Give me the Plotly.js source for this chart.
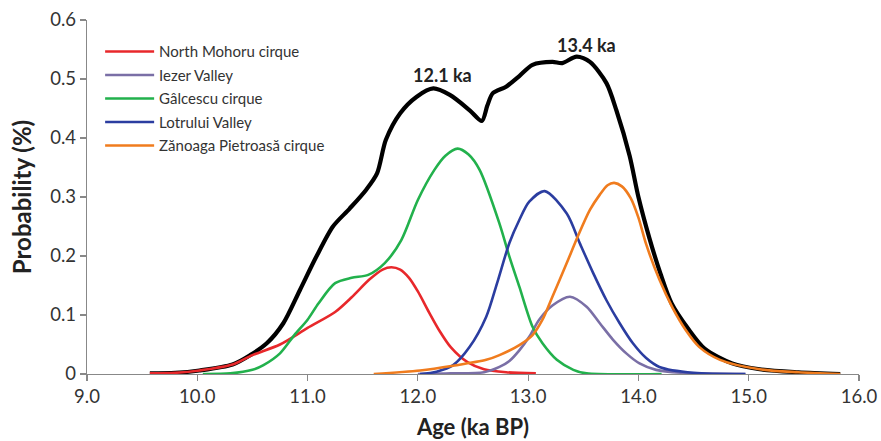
<!DOCTYPE html>
<html>
<head>
<meta charset="utf-8">
<script src="https://cdn.plot.ly/plotly-3.0.1.min.js"></script>
<style>
html,body{margin:0;padding:0;background:#fff;}
#chart{width:881px;height:441px;}
</style>
</head>
<body>
<div id="chart"></div>
<script>
// Summed probability (black)
const sumX = [9.57, 9.8, 10.02, 10.32, 10.48, 10.63, 10.78, 10.93, 11.08, 11.23, 11.38, 11.53, 11.63, 11.71, 11.84, 11.99, 12.14, 12.29, 12.47, 12.58, 12.63, 12.68, 12.8, 12.92, 13.04, 13.22, 13.31, 13.44, 13.56, 13.71, 13.8, 13.92, 14.0, 14.1, 14.2, 14.3, 14.45, 14.6, 14.85, 15.1, 15.45, 15.83];
const sumY = [0.001, 0.002, 0.006, 0.016, 0.032, 0.052, 0.086, 0.142, 0.199, 0.25, 0.28, 0.312, 0.34, 0.397, 0.442, 0.47, 0.484, 0.473, 0.447, 0.429, 0.455, 0.476, 0.487, 0.505, 0.524, 0.529, 0.527, 0.538, 0.529, 0.493, 0.447, 0.37, 0.30, 0.23, 0.17, 0.12, 0.077, 0.043, 0.018, 0.008, 0.003, 0.0];

// North Mohoru cirque (red)
const mohoruX = [9.57, 9.8, 10.02, 10.32, 10.5, 10.75, 11.0, 11.25, 11.4, 11.56, 11.68, 11.76, 11.84, 11.92, 12.0, 12.1, 12.2, 12.3, 12.45, 12.6, 12.8, 13.07];
const mohoruY = [0.001, 0.002, 0.006, 0.016, 0.032, 0.05, 0.078, 0.105, 0.13, 0.16, 0.177, 0.181, 0.177, 0.163, 0.14, 0.105, 0.072, 0.045, 0.02, 0.008, 0.003, 0.001];

// Iezer Valley (purple)
const iezerX = [12.0, 12.3, 12.6, 12.74, 12.83, 12.92, 13.01, 13.1, 13.22, 13.38, 13.53, 13.65, 13.77, 13.89, 14.01, 14.16, 14.4, 14.97];
const iezerY = [0.0, 0.001, 0.003, 0.012, 0.022, 0.04, 0.063, 0.092, 0.116, 0.131, 0.114, 0.086, 0.058, 0.035, 0.018, 0.007, 0.002, 0.0];

// Gâlcescu cirque (green)
const galcescuX = [10.05, 10.3, 10.5, 10.6, 10.75, 10.88, 11.0, 11.1, 11.25, 11.4, 11.55, 11.7, 11.85, 12.0, 12.15, 12.25, 12.36, 12.46, 12.56, 12.74, 12.83, 12.92, 13.04, 13.13, 13.26, 13.41, 13.53, 14.21];
const galcescuY = [0.0, 0.001, 0.007, 0.015, 0.035, 0.066, 0.092, 0.12, 0.154, 0.163, 0.168, 0.188, 0.227, 0.295, 0.346, 0.37, 0.382, 0.372, 0.346, 0.255, 0.199, 0.148, 0.08, 0.052, 0.024, 0.007, 0.001, 0.0];

// Lotrului Valley (blue)
const lotruluiX = [12.02, 12.17, 12.32, 12.47, 12.62, 12.72, 12.83, 12.92, 13.01, 13.15, 13.35, 13.47, 13.59, 13.71, 13.83, 13.95, 14.07, 14.19, 14.5, 14.97];
const lotruluiY = [0.0, 0.004, 0.015, 0.046, 0.097, 0.155, 0.222, 0.261, 0.292, 0.31, 0.272, 0.221, 0.171, 0.125, 0.086, 0.052, 0.027, 0.012, 0.002, 0.0];

// Zănoaga Pietroasă cirque (orange)
const zanoagaX = [11.6, 12.02, 12.32, 12.62, 12.74, 12.92, 13.04, 13.13, 13.22, 13.35, 13.45, 13.56, 13.65, 13.72, 13.78, 13.85, 13.93, 14.0, 14.07, 14.19, 14.31, 14.43, 14.55, 14.74, 15.1, 15.45, 15.83];
const zanoagaY = [0.0, 0.006, 0.014, 0.024, 0.032, 0.049, 0.066, 0.092, 0.131, 0.188, 0.233, 0.278, 0.304, 0.32, 0.324, 0.318, 0.298, 0.265, 0.22, 0.16, 0.112, 0.074, 0.046, 0.024, 0.008, 0.003, 0.0];

const seriesNames = ["North Mohoru cirque", "Iezer Valley", "Gâlcescu cirque", "Lotrului Valley", "Zănoaga Pietroasă cirque"];
const seriesColors = ["#e8282b", "#7a6fa6", "#22b14c", "#2b3da0", "#f07c1e"];
const xTickVals = [9, 10, 11, 12, 13, 14, 15, 16];
const xTickText = ["9.0", "10.0", "11.0", "12.0", "13.0", "14.0", "15.0", "16.0"];
const yTickVals = [0, 0.1, 0.2, 0.3, 0.4, 0.5, 0.6];
const yTickText = ["0", "0.1", "0.2", "0.3", "0.4", "0.5", "0.6"];
const peakLabels = ["12.1 ka", "13.4 ka"];
const peakX = [12.22, 13.53];
const peakY = [0.507, 0.558];

const seriesX = [mohoruX, iezerX, galcescuX, lotruluiX, zanoagaX];
const seriesY = [mohoruY, iezerY, galcescuY, lotruluiY, zanoagaY];

const FONT = "Lato, 'Open Sans', sans-serif";

const traces = [];
for (let i = 0; i < seriesNames.length; i++) {
  traces.push({
    x: seriesX[i], y: seriesY[i], type: "scatter", mode: "lines",
    name: seriesNames[i], legendgroup: "g" + i,
    line: {color: seriesColors[i], width: 2.6, shape: "spline", smoothing: 0.8}
  });
}
traces.push({
  x: sumX, y: sumY, type: "scatter", mode: "lines", name: "Sum",
  showlegend: false,
  line: {color: "#000000", width: 4.2, shape: "spline", smoothing: 0.8}
});
const order = [5, 0, 1, 2, 3, 4];
const data = order.map(i => traces[i]);

const layout = {
  width: 881, height: 441,
  margin: {l: 87, r: 22, t: 20, b: 67},
  paper_bgcolor: "#ffffff", plot_bgcolor: "#ffffff",
  font: {family: FONT, color: "#333333", size: 16},
  showlegend: true,
  legend: {
    x: 0.017, y: 0.957, xanchor: "left", yanchor: "top",
    bgcolor: "rgba(0,0,0,0)", borderwidth: 0,
    font: {family: FONT, size: 15, color: "#333333"},
    traceorder: "grouped", tracegroupgap: 1, itemwidth: 49
  },
  xaxis: {
    range: [9, 16], tickvals: xTickVals, ticktext: xTickText,
    ticks: "outside", ticklen: 6, tickcolor: "#888", tickwidth: 1.2,
    showline: true, linecolor: "#888", linewidth: 1.2,
    showgrid: false, zeroline: false,
    tickfont: {family: FONT, size: 18.5, color: "#333"},
    title: {text: "Age (ka BP)", font: {family: FONT, size: 22, color: "#222", weight: "bold"}, standoff: 13}
  },
  yaxis: {
    range: [0, 0.6], tickvals: yTickVals, ticktext: yTickText,
    ticks: "outside", ticklen: 6, tickcolor: "#888", tickwidth: 1.2,
    showline: true, linecolor: "#888", linewidth: 1.2,
    showgrid: false, zeroline: false,
    tickfont: {family: FONT, size: 18.5, color: "#333"},
    title: {text: "Probability (%)", font: {family: FONT, size: 24, color: "#222", weight: "bold"}, standoff: 11}
  },
  annotations: peakLabels.map((t, i) => ({
    x: peakX[i], y: peakY[i], xref: "x", yref: "y", text: t, showarrow: false,
    font: {family: FONT, size: 18, color: "#222", weight: "bold"}
  }))
};

Plotly.newPlot("chart", data, layout, {displayModeBar: false, staticPlot: true});
</script>
</body>
</html>
